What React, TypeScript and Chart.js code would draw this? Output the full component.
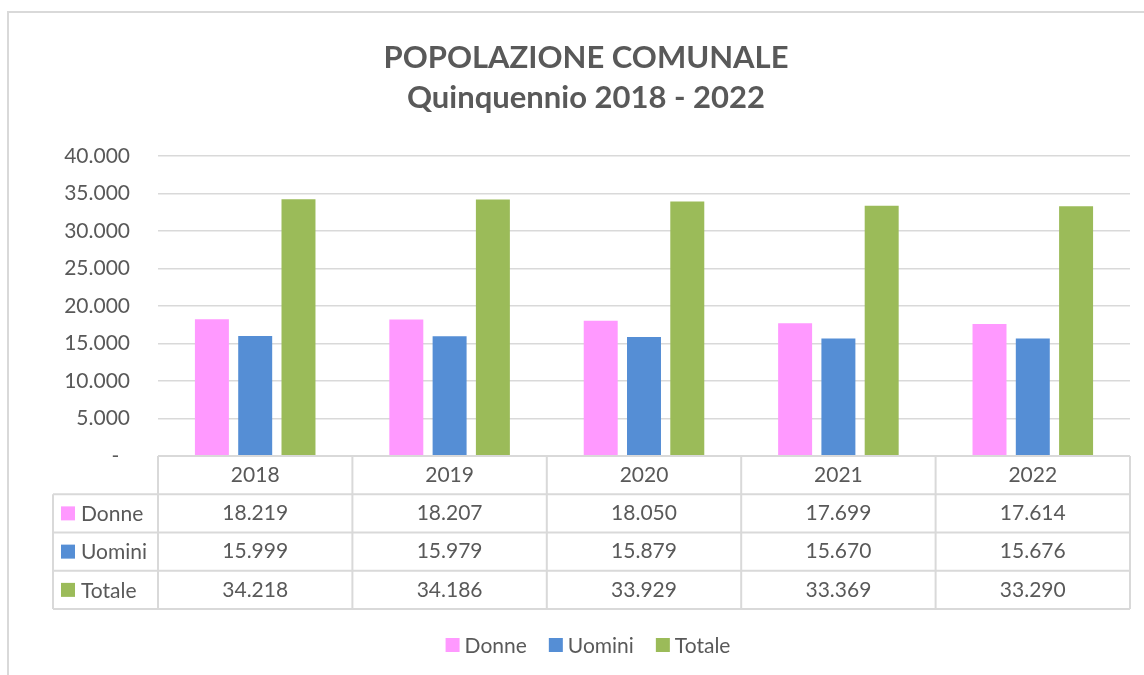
import React, { useEffect, useRef } from "react";
import { Chart, registerables } from "chart.js";

Chart.register(...registerables);

const categories = ["2018", "2019", "2020", "2021", "2022"];
const donne = [18219, 18207, 18050, 17699, 17614];
const uomini = [15999, 15979, 15879, 15670, 15676];
const totale = [34218, 34186, 33929, 33369, 33290];
const seriesNames = ["Donne", "Uomini", "Totale"];
const seriesColors = ["#FF99FF", "#558ED5", "#9BBB59"];
const titleLines = ["POPOLAZIONE COMUNALE", "Quinquennio 2018 - 2022"];

const TEXT = "#595959";
const LINE = "#D9D9D9";
const FONT = "Lato";
const CENTER_X = 586;

const fmt = (v: number) => String(v).replace(/\B(?=(\d{3})+(?!\d))/g, ".");

const framePlugin = {
  id: "frame",
  beforeDraw(chart: any) {
    const { ctx, width, height } = chart;
    ctx.save();
    ctx.fillStyle = "#fff";
    ctx.fillRect(0, 0, width, height);
    ctx.strokeStyle = LINE;
    ctx.lineWidth = 2;
    ctx.beginPath();
    ctx.moveTo(8, height);
    ctx.lineTo(8, 12);
    ctx.lineTo(width, 12);
    ctx.stroke();
    // title
    ctx.fillStyle = TEXT;
    ctx.font = `bold 31px ${FONT}`;
    ctx.textAlign = "center";
    ctx.textBaseline = "middle";
    titleLines.forEach((t, i) => ctx.fillText(t, CENTER_X, 58 + i * 40));
    ctx.restore();
  },
};

const tablePlugin = {
  id: "dataTable",
  afterDraw(chart: any) {
    const { ctx, chartArea } = chart;
    const xs = chart.scales.x;
    const n = categories.length;
    const catW = (xs.right - xs.left) / n;
    const top = chartArea.bottom;
    const rowH = xs.height / 4;
    const labelLeft = xs.left - 105;
    const bottom = top + rowH * 4;
    ctx.save();
    ctx.strokeStyle = LINE;
    ctx.lineWidth = 2;
    ctx.beginPath();
    ctx.moveTo(xs.left, top);
    ctx.lineTo(xs.right, top);
    for (let r = 1; r <= 4; r++) {
      const y = top + rowH * r;
      ctx.moveTo(labelLeft, y);
      ctx.lineTo(xs.right, y);
    }
    for (let i = 0; i <= n; i++) {
      const x = xs.left + catW * i;
      ctx.moveTo(x, top);
      ctx.lineTo(x, bottom);
    }
    ctx.moveTo(labelLeft, top + rowH);
    ctx.lineTo(labelLeft, bottom);
    ctx.stroke();

    ctx.fillStyle = TEXT;
    ctx.font = `21px ${FONT}`;
    ctx.textBaseline = "middle";
    ctx.textAlign = "center";
    categories.forEach((c, i) => {
      ctx.fillText(c, xs.getPixelForValue(i), top + rowH / 2);
    });
    const rows = [donne, uomini, totale];
    rows.forEach((vals, r) => {
      const yc = top + rowH * (r + 1.5);
      ctx.textAlign = "center";
      ctx.fillStyle = TEXT;
      vals.forEach((v, i) => {
        ctx.fillText(fmt(v), xs.getPixelForValue(i), yc);
      });
      ctx.fillStyle = seriesColors[r];
      ctx.fillRect(labelLeft + 8, yc - 7, 14, 14);
      ctx.fillStyle = TEXT;
      ctx.textAlign = "left";
      ctx.fillText(seriesNames[r], labelLeft + 28, yc + 1);
    });

    // legend
    const ly = 645;
    const box = 14;
    const gapText = 5;
    const gapItem = 22;
    const widths = seriesNames.map((s) => box + gapText + ctx.measureText(s).width);
    const total = widths.reduce((a, b) => a + b, 0) + gapItem * (widths.length - 1);
    let x = CENTER_X + 2 - total / 2;
    seriesNames.forEach((s, i) => {
      ctx.fillStyle = seriesColors[i];
      ctx.fillRect(x, ly - box / 2, box, box);
      ctx.fillStyle = TEXT;
      ctx.textAlign = "left";
      ctx.fillText(s, x + box + gapText, ly + 1);
      x += widths[i] + gapItem;
    });
    ctx.restore();
  },
};

export default function App() {
  const ref = useRef<HTMLCanvasElement | null>(null);
  useEffect(() => {
    if (!ref.current) return;
    Chart.defaults.font.family = FONT;
    const chart = new Chart(ref.current, {
      type: "bar",
      data: {
        labels: categories,
        datasets: [donne, uomini, totale].map((d, i) => ({
          label: seriesNames[i],
          data: d,
          backgroundColor: seriesColors[i],
          borderWidth: 0,
          barPercentage: 0.785,
          categoryPercentage: 0.668,
        })),
      },
      options: {
        responsive: false,
        animation: false,
        layout: { padding: { left: 0, right: 14, top: 156, bottom: 66 } },
        plugins: {
          title: { display: false },
          legend: { display: false },
          tooltip: { enabled: false },
        },
        scales: {
          x: {
            grid: { display: false },
            border: { display: false },
            ticks: { display: false },
            afterFit: (s: any) => {
              s.height = 153;
            },
          },
          y: {
            min: 0,
            max: 40000,
            ticks: {
              stepSize: 5000,
              padding: 28,
              color: TEXT,
              font: { family: FONT, size: 21 },
              callback: (v: any) => (Number(v) === 0 ? "-  " : fmt(Number(v))),
            },
            grid: { color: LINE, lineWidth: 1.5, drawTicks: false },
            border: { display: false },
            afterFit: (s: any) => {
              s.width = 158;
            },
          },
        },
      },
      plugins: [framePlugin, tablePlugin],
    });
    return () => chart.destroy();
  }, []);
  return (
    <div style={{ position: "fixed", left: 0, top: 0, width: 1144, height: 675, background: "#fff" }}>
      <canvas ref={ref} width={1144} height={675} style={{ display: "block" }} />
    </div>
  );
}
